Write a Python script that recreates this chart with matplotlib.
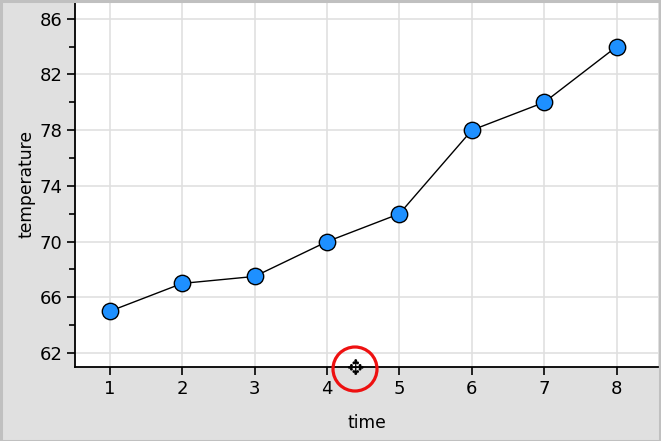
import matplotlib
matplotlib.use("Agg")
import matplotlib.pyplot as plt
from matplotlib.patches import Circle, Rectangle
from matplotlib.ticker import MultipleLocator

time = [1, 2, 3, 4, 5, 6, 7, 8]
temperature = [65, 67, 67.5, 70, 72, 78, 80, 84]
yticks = [62, 66, 70, 74, 78, 82, 86]

W, H = 661, 441
fig = plt.figure(figsize=(W / 100, H / 100), dpi=100)
fig.patch.set_facecolor("#e0e0e0")
# outer border
fig.add_artist(Rectangle((0.5 / W, 0.5 / H), 1 - 1.5 / W, 1 - 1.5 / H, transform=fig.transFigure,
                         fill=False, edgecolor="#c0c0c0", linewidth=2.2))

left, right, top, bottom = 75, 658, 2, 367
ax = fig.add_axes([left / W, 1 - bottom / H, (right - left) / W, (bottom - top) / H])
ax.set_facecolor("white")
ax.set_xlim(0.52, 8.57)
ax.set_ylim(61, 87.2)

ax.set_xticks(time)
ax.set_yticks(yticks)
ax.yaxis.set_minor_locator(MultipleLocator(2))
ax.grid(True, which="major", color="#e0e0e0", linewidth=1.2)
ax.set_axisbelow(True)

for s in ["top", "right"]:
    ax.spines[s].set_visible(False)
for s in ["left", "bottom"]:
    ax.spines[s].set_linewidth(1.3)
ax.tick_params(axis="both", which="major", length=6, width=1.2, labelsize=13, pad=3)
ax.tick_params(axis="y", which="minor", length=4, width=1.2)

ax.plot(time, temperature, color="black", linewidth=1.0, zorder=3)
ax.plot(time, temperature, linestyle="none", marker="o", markersize=11.8,
        markerfacecolor="#1e90ff", markeredgecolor="black", markeredgewidth=1.0, zorder=4)

ax.set_xlabel("time", fontsize=12.3, labelpad=12)
ax.set_ylabel("temperature", fontsize=12.3, labelpad=3)

# red circle with move cursor
cx, cy = 355 / W, 1 - 369 / H
fig.add_artist(Circle((355, H - 369), 22, transform=None, fill=False,
                      edgecolor="#ee1111", linewidth=2.3, zorder=10))
fig.text(cx, cy, "\u2725", fontsize=15, ha="center", va="center", color="black", zorder=11)

fig.savefig("out.png", dpi=100, facecolor=fig.get_facecolor())
